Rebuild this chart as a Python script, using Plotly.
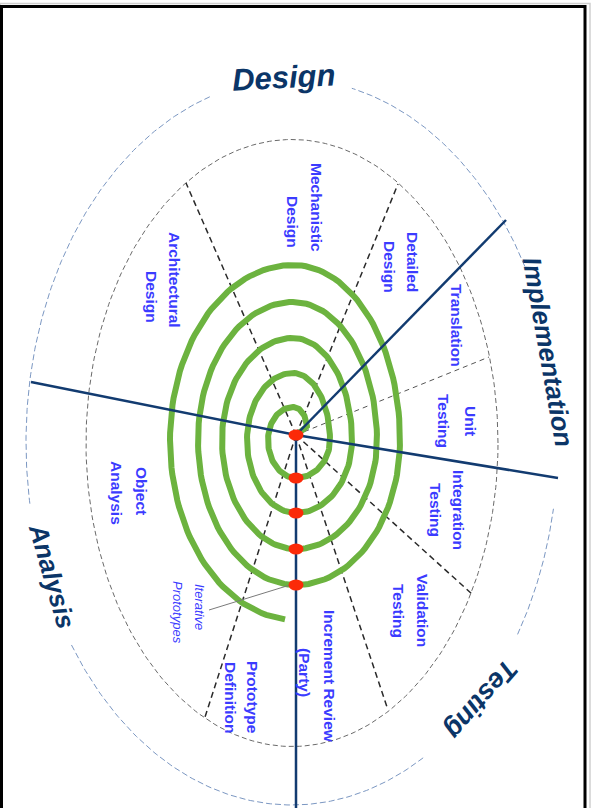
import numpy as np
import plotly.graph_objects as go

# ---------------- data (pixel space, y down) ----------------
center = (296, 435)

# spiral extremes, one entry per turn
spiral_right_x = [307, 330, 352, 377, 400]
spiral_right_y = [428, 440, 440, 440, 440]
spiral_top_y = [407, 373, 338, 302, 265]
spiral_left_x = [268, 247, 222, 198, 170]
spiral_bottom_y = [478, 513, 549, 585, 620]
spiral_top_x = 293
spiral_bottom_x = 296
spiral_side_y = 440
spiral_end_deg = 265

# red milestone dots
dot_x = [296, 296, 296, 296, 296]
dot_y = [435, 478, 513, 549, 585]

# ellipses (center, semi-axes)
inner_ell = dict(cx=292, cy=443, a=206, b=303.5)
outer_ell = dict(cx=292, cy=442, a=266, b=363)
outer_arcs_deg = [(108, 190), (29, 77), (-32, -10.6), (-146, -60)]

# radial dashed separators (end points on inner ellipse)
dash_end_x = [186, 398, 472, 387, 205]
dash_end_y = [183, 184, 594, 707, 717]
thin_dash_end = (489, 357)

# navy axis lines
navy_lines = [
    [(296, 435), (506, 220)],
    [(31, 382), (296, 435), (558, 478)],
    [(296, 435), (296, 812)],
]

# callout line for "Iterative Prototypes"
callout = [(290, 585), (209, 610)]

# section labels (one entry per text line)
sec_text = ["Mechanistic", "Design", "Architectural", "Design", "Detailed", "Design",
            "Translation", "Unit", "Testing", "Integration", "Testing",
            "Validation", "Testing", "Increment Review", "(Party)",
            "Prototype", "Definition", "Object", "Analysis"]
sec_x = [317, 293, 175, 152, 413, 390, 457, 471, 444, 459, 436, 423, 399, 330, 305, 253, 231, 142, 117]
sec_y = [207, 222, 280, 297, 262, 267, 325, 421, 421, 510, 510, 610, 611, 676, 672, 697, 697, 491, 493]

iter_text = ["Iterative", "Prototypes"]
iter_x = [200, 178]
iter_y = [607, 612]

phase_text = ["Design", "Implementation", "Testing", "Analysis"]
phase_x = [283, 548, 481, 52]
phase_y = [77, 352, 700, 576]
phase_angle = [-3, 80, 131, 74]
phase_size = [31, 26, 27, 26]

# ---------------- colours ----------------
GREEN = "#6cb33f"
RED = "#fb2a08"
NAVY = "#123b70"
BLUE_TXT = "#3b3bff"
PHASE_TXT = "#0b3567"

fig = go.Figure()


def arc(cx, cy, rx, ry, t0, t1, n=40):
    t = np.radians(np.linspace(t0, t1, n))
    return list(cx + rx * np.cos(t)), list(cy - ry * np.sin(t))


def line(xs, ys, color, width, dash="solid"):
    fig.add_trace(go.Scatter(x=xs, y=ys, mode="lines", hoverinfo="skip",
                             line=dict(color=color, width=width, dash=dash),
                             showlegend=False))


# inner dashed ellipse
xs, ys = arc(inner_ell["cx"], inner_ell["cy"], inner_ell["a"], inner_ell["b"], 0, 360, 300)
line(xs, ys, "#6a6a6a", 1, "5px,3px")

# outer broken ellipse
for t0, t1 in outer_arcs_deg:
    xs, ys = arc(outer_ell["cx"], outer_ell["cy"], outer_ell["a"], outer_ell["b"], t0, t1, 120)
    line(xs, ys, "#7b97c2", 1, "6px,3px")

# radial separators
for ex, ey in zip(dash_end_x, dash_end_y):
    line([center[0], ex], [center[1], ey], "#2a2a2a", 1.5, "6px,4px")
line([center[0], thin_dash_end[0]], [center[1], thin_dash_end[1]], "#555555", 1, "5px,4px")

# spiral
sx, sy = [center[0] + 2], [center[1] - 1]
tx, bx, syd = spiral_top_x, spiral_bottom_x, spiral_side_y
for k in range(len(spiral_top_y)):
    R, Ry, T, L, B = spiral_right_x[k], spiral_right_y[k], spiral_top_y[k], spiral_left_x[k], spiral_bottom_y[k]
    x, y = arc(tx, Ry, R - tx, Ry - T, 0, 90); sx += x; sy += y
    x, y = arc(tx, syd, tx - L, syd - T, 90, 180); sx += x; sy += y
    end = 270 if k < len(spiral_top_y) - 1 else spiral_end_deg
    x, y = arc(bx, syd, bx - L, B - syd, 180, end); sx += x; sy += y
    if k < len(spiral_top_y) - 1:
        R2, R2y = spiral_right_x[k + 1], spiral_right_y[k + 1]
        x, y = arc(bx, R2y, R2 - bx, B - R2y, 270, 360); sx += x; sy += y
line(sx, sy, GREEN, 6)

# callout
line([callout[0][0], callout[1][0]], [callout[0][1], callout[1][1]], "#7a7a7a", 1)

# navy lines
for seg in navy_lines:
    line([p[0] for p in seg], [p[1] for p in seg], NAVY, 2.5)

# red dots
shapes = []
for x, y in zip(dot_x, dot_y):
    shapes.append(dict(type="circle", xref="x", yref="y", x0=x - 7.5, x1=x + 7.5,
                       y0=y - 5.5, y1=y + 5.5, fillcolor=RED, line=dict(width=0)))

# frame
shapes.append(dict(type="rect", xref="x", yref="y", x0=0.2, y0=3.5, x1=590, y1=900,
                   line=dict(color="#cfcfcf", width=1.5)))
shapes.append(dict(type="rect", xref="x", yref="y", x0=1.5, y0=6.5, x1=585, y1=900,
                   line=dict(color="#000000", width=3)))

ann = []
for t, x, y in zip(sec_text, sec_x, sec_y):
    ann.append(dict(text="<b>" + t + "</b>", x=x, y=y, xref="x", yref="y", showarrow=False,
                    textangle=90,
                    font=dict(family="Liberation Sans, Arial", size=15.5, color=BLUE_TXT)))
for t, x, y in zip(iter_text, iter_x, iter_y):
    ann.append(dict(text="<i>" + t + "</i>", x=x, y=y, xref="x", yref="y", showarrow=False,
                    textangle=90,
                    font=dict(family="Liberation Sans, Arial", size=13, color=BLUE_TXT)))
for t, x, y, a, s in zip(phase_text, phase_x, phase_y, phase_angle, phase_size):
    ann.append(dict(text="<b><i>" + t + "</i></b>", x=x, y=y, xref="x", yref="y",
                    showarrow=False, textangle=a,
                    font=dict(family="Liberation Sans, Arial", size=s, color=PHASE_TXT)))

fig.update_layout(
    width=591, height=808, margin=dict(l=0, r=0, t=0, b=0),
    paper_bgcolor="white", plot_bgcolor="white",
    xaxis=dict(range=[0, 591], visible=False, fixedrange=True),
    yaxis=dict(range=[808, 0], visible=False, fixedrange=True),
    shapes=shapes, annotations=ann, showlegend=False,
)

fig.write_html("out.html", config={"displayModeBar": False},
               post_script="document.body.style.margin='0px';document.body.style.overflow='hidden';")
